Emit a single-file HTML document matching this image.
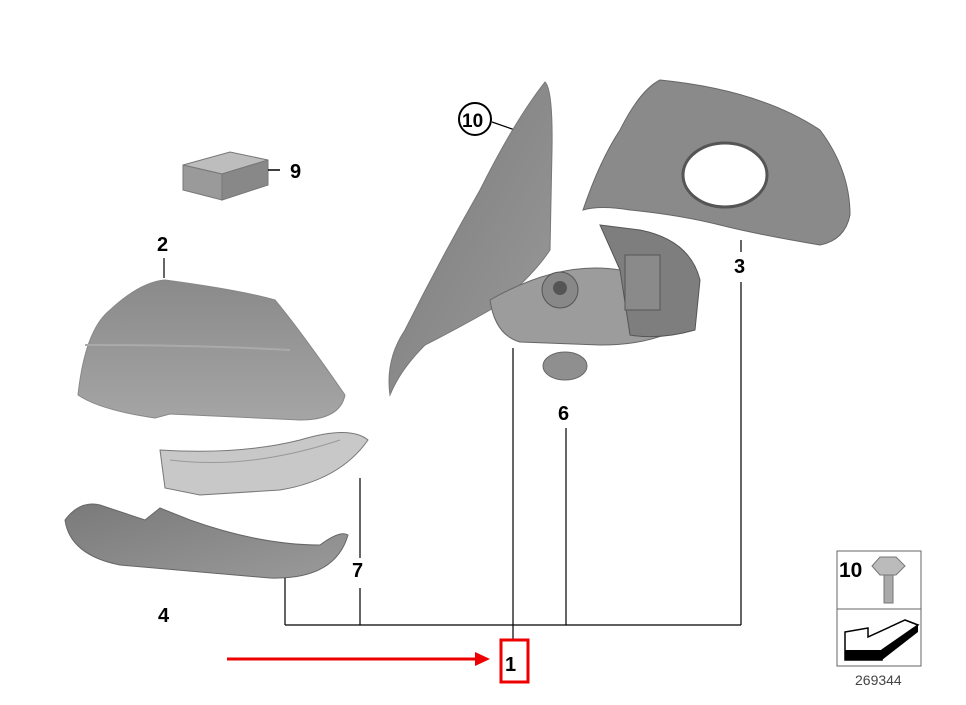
<!DOCTYPE html>
<html><head><meta charset="utf-8"><style>
html,body{margin:0;padding:0;background:#fff;}
svg{display:block;}
text{font-family:"Liberation Sans",Arial,sans-serif;font-weight:bold;fill:#000;}
</style></head><body>
<svg width="966" height="705" viewBox="0 0 966 705" xmlns="http://www.w3.org/2000/svg">
<defs>
<linearGradient id="g1" x1="0" y1="0" x2="0" y2="1"><stop offset="0" stop-color="#8a8a8a"/><stop offset="1" stop-color="#a5a5a5"/></linearGradient>
<linearGradient id="g2" x1="0" y1="0" x2="1" y2="1"><stop offset="0" stop-color="#7a7a7a"/><stop offset="1" stop-color="#9a9a9a"/></linearGradient>
</defs>
<!-- 9 box -->
<polygon points="183,165 230,152 268,160 222,174" fill="#bdbdbd" stroke="#777"/>
<polygon points="183,165 222,174 222,200 183,190" fill="#9a9a9a" stroke="#777"/>
<polygon points="222,174 268,160 268,185 222,200" fill="#888" stroke="#777"/>
<line x1="268" y1="170" x2="280" y2="170" stroke="#000" stroke-width="1.5"/>
<text x="290" y="178" font-size="20">9</text>
<!-- 2 cover -->
<text x="157" y="251" font-size="20">2</text>
<line x1="164" y1="258" x2="164" y2="278" stroke="#000" stroke-width="1.2"/>
<path d="M78,395 Q85,330 110,310 Q140,282 165,280 Q240,290 275,300 Q300,330 345,395 Q340,420 300,420 L170,414 L155,418 Q100,410 78,395Z" fill="url(#g1)" stroke="#888"/>
<path d="M85,345 Q200,345 290,350" fill="none" stroke="#aaa" stroke-width="2"/>
<!-- 7 indicator -->
<path d="M160,450 Q240,455 300,440 Q350,425 368,440 Q340,480 280,490 L200,495 L165,488 Z" fill="#c8c8c8" stroke="#777"/>
<path d="M170,460 Q250,470 340,440" fill="none" stroke="#999"/>
<line x1="360" y1="478" x2="360" y2="558" stroke="#000" stroke-width="1.2"/>
<line x1="360" y1="588" x2="360" y2="625" stroke="#000" stroke-width="1.2"/>
<text x="352" y="577" font-size="20">7</text>
<!-- 4 trim -->
<path d="M65,520 Q80,500 100,505 L145,520 L160,508 L190,520 Q260,545 320,545 Q340,530 348,535 Q335,580 270,578 L120,565 Q70,555 65,520Z" fill="url(#g2)" stroke="#666"/>
<line x1="285" y1="578" x2="285" y2="625" stroke="#000" stroke-width="1.2"/>
<text x="158" y="622" font-size="20">4</text>
<!-- 10 circle -->
<circle cx="475" cy="119" r="16" fill="#fff" stroke="#000" stroke-width="2"/>
<text x="462" y="127" font-size="19">10</text>
<line x1="492" y1="122" x2="515" y2="130" stroke="#000" stroke-width="1.2"/>
<!-- base arm -->
<path d="M545,82 Q553,90 552,150 L550,250 Q530,280 490,310 Q455,330 425,345 Q400,370 390,395 Q385,360 405,330 Q440,260 480,190 Q515,120 545,82Z" fill="url(#g2)" stroke="#777"/>
<path d="M490,300 Q560,260 620,270 Q680,280 690,320 Q660,345 600,345 L520,342 Q495,335 490,300Z" fill="#9c9c9c" stroke="#666"/>
<path d="M600,225 L640,230 Q690,240 700,280 L695,330 Q660,340 630,335 L620,270 Z" fill="#7e7e7e" stroke="#555"/>
<circle cx="560" cy="290" r="18" fill="#888" stroke="#555"/>
<circle cx="560" cy="288" r="7" fill="#555"/>
<rect x="625" y="255" width="35" height="55" fill="#8a8a8a" stroke="#555"/>
<!-- 3 housing -->
<path d="M660,80 Q760,90 820,130 Q850,170 850,215 Q845,240 820,245 Q760,235 720,225 Q680,215 630,210 Q600,205 583,210 Q600,160 620,130 Q640,90 660,80Z" fill="#8a8a8a" stroke="#666"/>
<ellipse cx="725" cy="175" rx="42" ry="32" fill="#fff" stroke="#555" stroke-width="3"/>
<line x1="741" y1="240" x2="741" y2="252" stroke="#000" stroke-width="1.2"/>
<text x="734" y="273" font-size="20">3</text>
<line x1="741" y1="282" x2="741" y2="625" stroke="#000" stroke-width="1.2"/>
<!-- 6 -->
<ellipse cx="565" cy="366" rx="22" ry="14" fill="#8f8f8f" stroke="#666"/>
<text x="558" y="420" font-size="20">6</text>
<line x1="566" y1="428" x2="566" y2="625" stroke="#000" stroke-width="1.2"/>
<!-- 1 -->
<line x1="513" y1="348" x2="513" y2="640" stroke="#000" stroke-width="1.2"/>
<line x1="285" y1="625" x2="741" y2="625" stroke="#000" stroke-width="1.2"/>
<rect x="501" y="640" width="27" height="42" fill="none" stroke="#e00" stroke-width="3"/>
<text x="505" y="671" font-size="20">1</text>
<line x1="227" y1="659" x2="478" y2="659" stroke="#e00" stroke-width="3"/>
<polygon points="490,659 475,652 475,666" fill="#e00"/>
<!-- key box -->
<rect x="837" y="551" width="84" height="115" fill="#fff" stroke="#666"/>
<line x1="837" y1="609" x2="921" y2="609" stroke="#666"/>
<text x="839" y="577" font-size="21">10</text>
<polygon points="872,566 880,557 896,557 905,566 896,575 880,575" fill="#bbb" stroke="#777"/>
<rect x="884" y="575" width="9" height="28" fill="#aaa" stroke="#777"/>
<polygon points="845,632 868,628 868,637 905,620 918,625 882,650 882,660 845,660" fill="#fff" stroke="#000" stroke-width="1.5"/>
<rect x="845" y="650" width="37" height="10" fill="#000"/>
<polygon points="882,650 918,625 918,632 882,660" fill="#000"/>
<text x="855" y="685" font-size="14" style="font-weight:normal;fill:#444">269344</text>
</svg>
</body></html>
